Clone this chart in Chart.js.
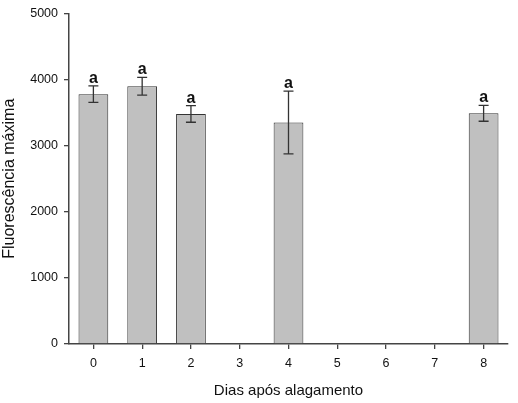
<!DOCTYPE html>
<html>
<head>
<meta charset="utf-8">
<script src="https://cdn.jsdelivr.net/npm/chart.js@4"></script>
<style>
  html, body { margin: 0; padding: 0; background: #fff; }
  #wrap { width: 518px; height: 403px; }
</style>
</head>
<body>
<div id="wrap"><canvas id="chart"></canvas></div>
<script>
// values
const days = ["0", "1", "2", "3", "4", "5", "6", "7", "8"];
const fmax = [3780, 3900, 3480, null, 3350, null, null, null, 3490];
const fmaxErr = [125, 135, 125, null, 475, null, null, null, 120];
const letters = ["a", "a", "a", "", "a", "", "", "", "a"];

// error bars + significance letters on top of the bars
const errorBars = {
    id: "errorBars",
    afterDatasetsDraw(chart) {
        const ctx = chart.ctx;
        const y = chart.scales.y;
        const meta = chart.getDatasetMeta(0);
        ctx.save();
        ctx.strokeStyle = "#333";
        ctx.lineWidth = 1.3;
        meta.data.forEach((bar, i) => {
            if (fmax[i] == null) return;
            const x = bar.x;
            const top = y.getPixelForValue(fmax[i] + fmaxErr[i]);
            const bot = y.getPixelForValue(fmax[i] - fmaxErr[i]);
            ctx.beginPath();
            ctx.moveTo(x, top); ctx.lineTo(x, bot);
            ctx.moveTo(x - 5, top); ctx.lineTo(x + 5, top);
            ctx.moveTo(x - 5, bot); ctx.lineTo(x + 5, bot);
            ctx.stroke();

            ctx.fillStyle = "#111";
            ctx.font = "bold 16px 'Liberation Sans', Arial, sans-serif";
            ctx.textAlign = "center";
            ctx.textBaseline = "alphabetic";
            ctx.fillText(letters[i], x, top - 3);
        });
        ctx.restore();
    }
};

const ctx = document.getElementById("chart").getContext("2d");

new Chart(ctx, {
    type: "bar",
    data: {
        labels: days,
        datasets: [
            {
                label: "Fluorescência máxima",
                data: fmax,
                backgroundColor: "#c0c0c0",
                borderColor: "#333",
                borderWidth: 1,
                barPercentage: 0.61,
                categoryPercentage: 1
            }
        ]
    },
    options: {
        responsive: true,
        maintainAspectRatio: false,
        animation: false,
        layout: {
            padding: { top: 11, right: 10, left: 0, bottom: 0 }
        },
        plugins: {
            legend: { display: false },
            tooltip: { enabled: false }
        },
        scales: {
            x: {
                afterFit: s => { s.height = 59; },
                grid: {
                    drawOnChartArea: false,
                    drawTicks: true,
                    tickLength: 5,
                    offset: false,
                    color: "#444",
                    lineWidth: 1.3
                },
                border: { display: true, color: "#444", width: 1.5 },
                ticks: {
                    padding: 7,
                    color: "#111",
                    font: { family: "'Liberation Sans', Arial, sans-serif", size: 12.5 }
                },
                title: {
                    display: true,
                    text: "Dias após alagamento",
                    color: "#111",
                    padding: { top: 0, bottom: 3 },
                    font: { family: "'Liberation Sans', Arial, sans-serif", size: 15 }
                }
            },
            y: {
                min: 0,
                max: 5000,
                afterFit: s => { s.width = 69; },
                grid: {
                    drawOnChartArea: false,
                    drawTicks: true,
                    tickLength: 5,
                    color: "#444",
                    lineWidth: 1.3
                },
                border: { display: true, color: "#444", width: 1.5 },
                ticks: {
                    stepSize: 1000,
                    padding: 6,
                    color: "#111",
                    callback: v => String(v),
                    font: { family: "'Liberation Sans', Arial, sans-serif", size: 12.5 }
                },
                title: {
                    display: true,
                    text: "Fluorescência máxima",
                    color: "#111",
                    padding: { top: 0, bottom: 0 },
                    font: { family: "'Liberation Sans', Arial, sans-serif", size: 16 }
                }
            }
        }
    },
    plugins: [errorBars]
});
</script>
</body>
</html>
